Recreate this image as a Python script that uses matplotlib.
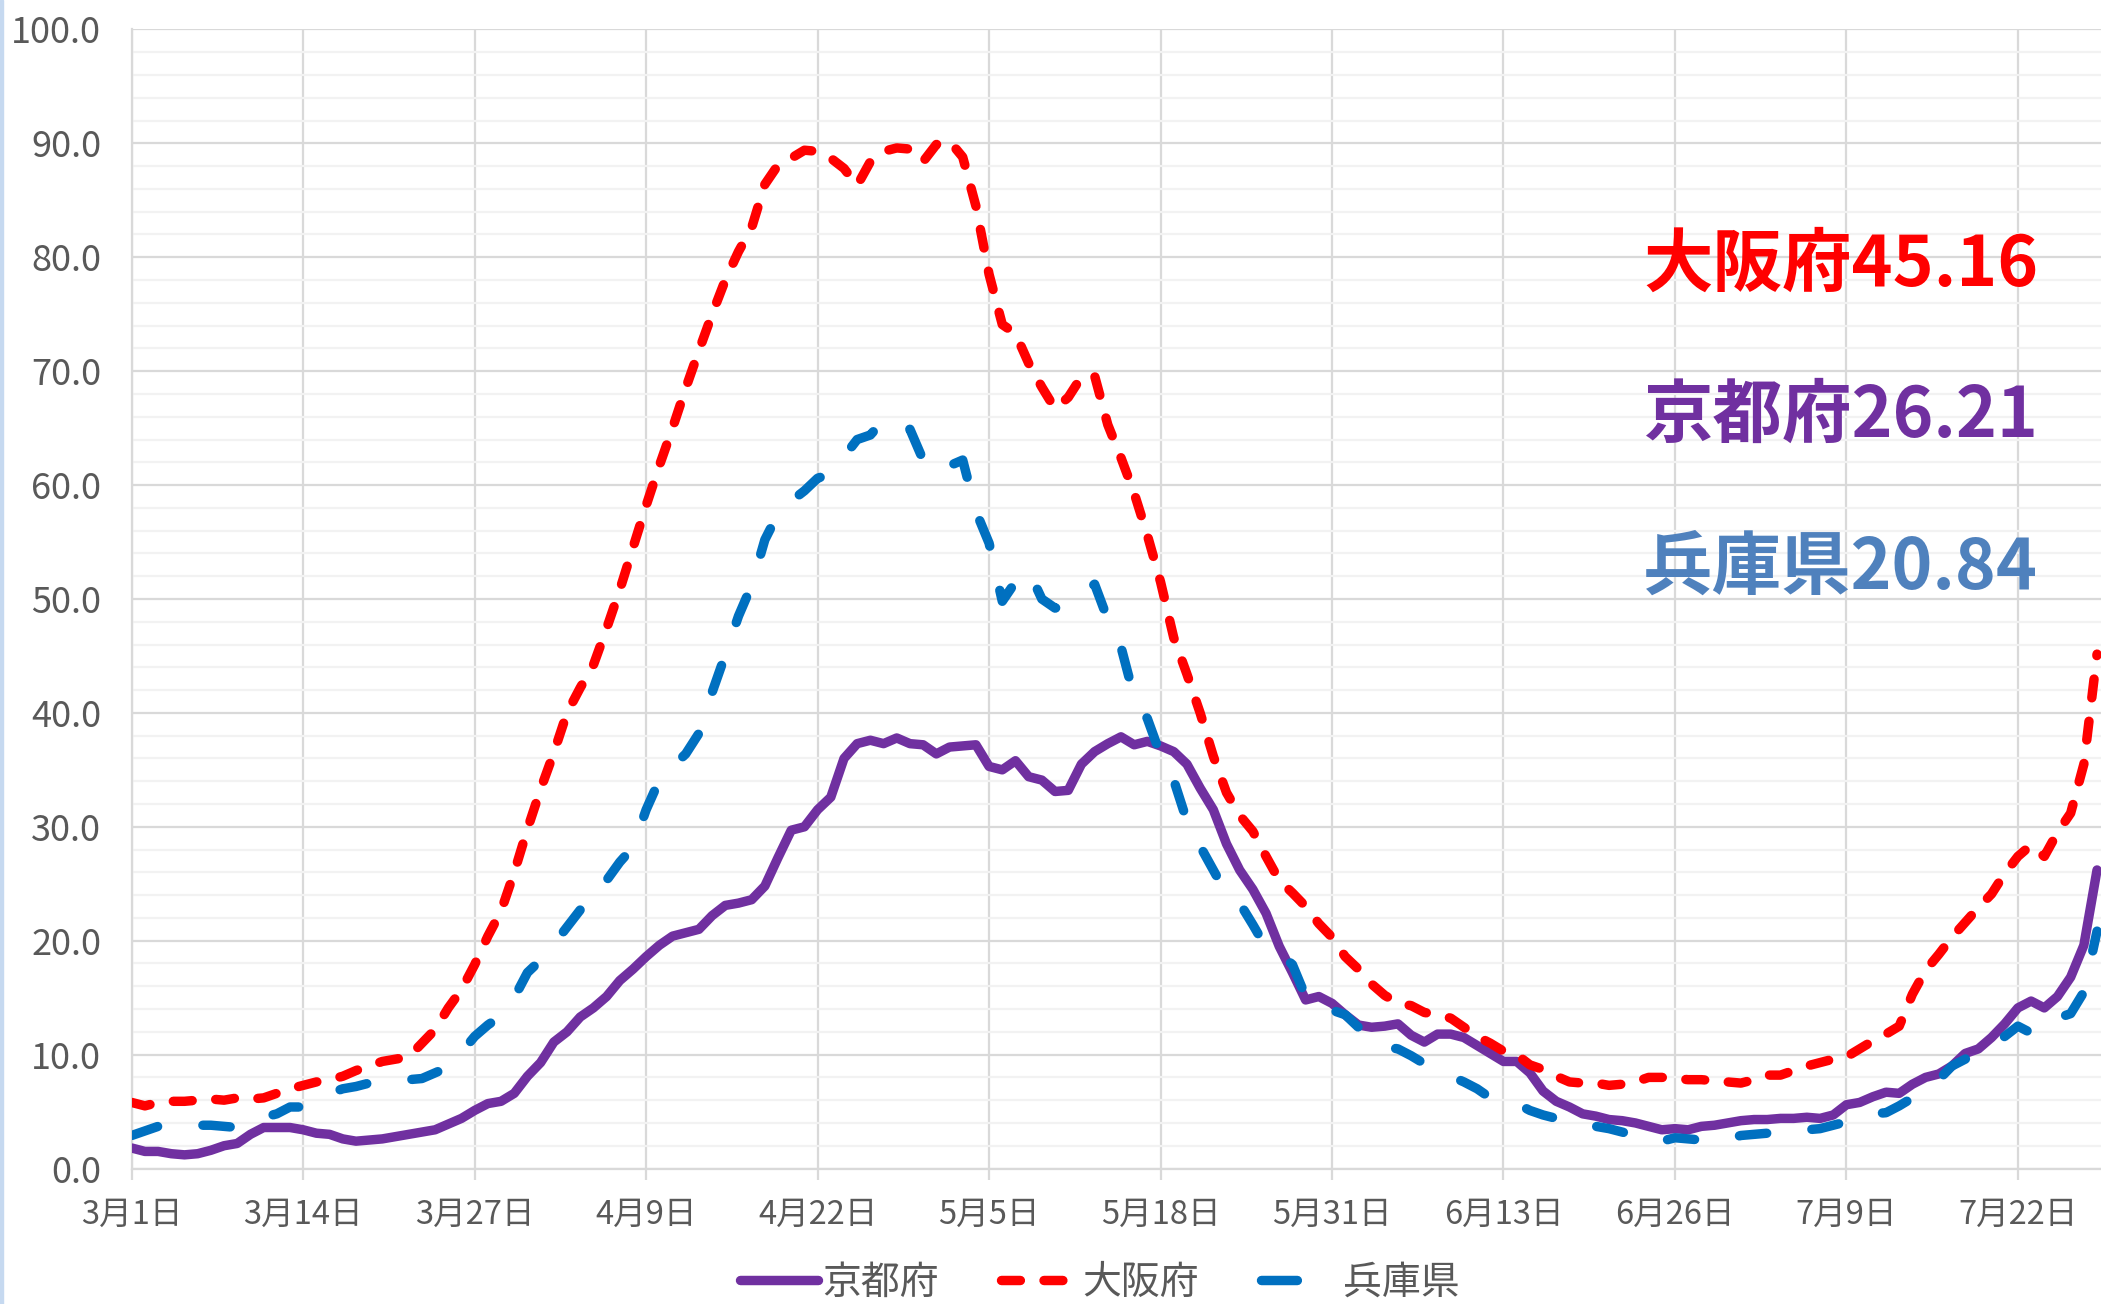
import numpy as np
import matplotlib.pyplot as plt
from matplotlib.patches import Rectangle

plt.rcParams['font.family'] = ['Noto Sans CJK JP', 'DejaVu Sans']

# daily values from 3/1 (day 0) to 7/28 (day 149)
kyoto = [
    1.8, 1.5, 1.5, 1.3, 1.2, 1.3, 1.6, 2.0, 2.2, 3.0,
    3.6, 3.6, 3.6, 3.4, 3.1, 3.0, 2.6, 2.4, 2.5, 2.6,
    2.8, 3.0, 3.2, 3.4, 3.9, 4.4, 5.1, 5.7, 5.9, 6.6,
    8.1, 9.3, 11.1, 12.0, 13.3, 14.1, 15.1, 16.5, 17.5, 18.6,
    19.6, 20.4, 20.7, 21.0, 22.2, 23.1, 23.3, 23.6, 24.8, 27.3,
    29.7, 30.0, 31.5, 32.6, 36.0, 37.3, 37.6, 37.3, 37.8, 37.3,
    37.2, 36.4, 37.0, 37.1, 37.2, 35.3, 35.0, 35.8, 34.4, 34.1,
    33.1, 33.2, 35.5, 36.6, 37.3, 37.9, 37.2, 37.5, 37.1, 36.6,
    35.5, 33.4, 31.5, 28.5, 26.2, 24.5, 22.4, 19.5, 17.2, 14.8,
    15.1, 14.5, 13.5, 12.6, 12.4, 12.5, 12.7, 11.7, 11.1, 11.8,
    11.8, 11.5, 10.8, 10.1, 9.4, 9.4, 8.4, 6.8, 5.9, 5.4,
    4.8, 4.6, 4.3, 4.2, 4.0, 3.7, 3.4, 3.5, 3.4, 3.7,
    3.8, 4.0, 4.2, 4.3, 4.3, 4.4, 4.4, 4.5, 4.4, 4.7,
    5.6, 5.8, 6.3, 6.7, 6.6, 7.4, 8.0, 8.3, 9.0, 10.1,
    10.5, 11.5, 12.7, 14.1, 14.7, 14.1, 15.1, 16.8, 19.6, 26.21,
]
osaka = [
    5.8, 5.5, 5.8, 5.9, 5.9, 6.0, 6.1, 6.0, 6.2, 6.1,
    6.2, 6.6, 7.0, 7.3, 7.6, 7.8, 8.1, 8.6, 9.0, 9.4,
    9.6, 9.8, 11.0, 12.2, 14.1, 15.7, 17.9, 20.4, 22.6, 26.0,
    29.8, 33.3, 36.5, 40.0, 42.2, 44.2, 47.4, 50.8, 54.5, 58.2,
    61.7, 65.0, 68.5, 71.8, 75.0, 78.0, 80.5, 82.6, 86.4, 88.1,
    88.7, 89.4, 89.3, 88.7, 87.8, 86.3, 88.4, 89.3, 89.6, 89.5,
    88.4, 89.9, 90.2, 88.8, 84.5, 78.5, 74.1, 73.3, 70.7, 68.6,
    66.7, 67.7, 69.5, 69.6, 65.3, 62.4, 59.3, 55.6, 51.5, 46.6,
    43.4, 40.0, 36.2, 33.0, 31.0, 29.6, 27.4, 25.3, 24.2, 23.0,
    21.5, 20.3, 18.6, 17.5, 16.2, 15.2, 14.5, 14.3, 13.7, 13.5,
    13.2, 12.4, 11.6, 11.0, 10.3, 10.0, 9.1, 8.7, 8.1, 7.6,
    7.5, 7.5, 7.3, 7.4, 7.6, 8.0, 8.0, 7.9, 7.8, 7.8,
    7.7, 7.6, 7.5, 7.8, 8.2, 8.2, 8.6, 9.0, 9.3, 9.6,
    9.8, 10.5, 11.2, 11.8, 12.5, 15.3, 17.4, 18.8, 20.3, 21.6,
    22.9, 24.1, 25.9, 27.4, 28.4, 27.4, 29.5, 31.2, 35.5, 45.16,
]
hyogo = [
    2.9, 3.3, 3.7, 3.8, 3.8, 3.8, 3.8, 3.7, 3.6, 3.9,
    4.5, 4.8, 5.4, 5.4, 6.0, 6.6, 7.0, 7.2, 7.5, 7.6,
    7.7, 7.8, 7.9, 8.4, 8.9, 10.2, 11.6, 12.6, 13.4, 15.0,
    17.2, 18.3, 19.7, 21.2, 22.7, 23.0, 25.3, 26.9, 28.2, 31.5,
    34.1, 35.3, 36.4, 38.2, 41.8, 45.1, 48.5, 51.2, 55.2, 57.5,
    58.6, 59.5, 60.6, 61.0, 62.5, 64.0, 64.4, 65.7, 64.8, 64.9,
    62.2, 61.0, 61.7, 62.2, 57.7, 54.9, 49.8, 51.5, 52.5, 50.0,
    49.2, 49.5, 50.4, 51.3, 48.2, 45.8, 41.4, 39.5, 36.3, 34.1,
    30.5, 28.3, 26.2, 24.1, 23.3, 21.4, 19.4, 18.9, 17.9, 15.1,
    15.0, 13.9, 13.5, 12.4, 11.1, 10.7, 10.5, 9.9, 9.2, 8.6,
    8.1, 7.6, 7.0, 6.2, 5.8, 5.7, 5.1, 4.7, 4.4, 4.2,
    3.8, 3.7, 3.5, 3.2, 2.9, 2.7, 2.4, 2.7, 2.6, 2.5,
    2.5, 2.6, 2.9, 3.0, 3.1, 3.2, 3.3, 3.4, 3.5, 3.8,
    4.1, 4.4, 4.8, 4.9, 5.5, 6.2, 7.0, 7.8, 9.0, 9.6,
    10.4, 10.8, 11.6, 12.5, 11.9, 12.0, 13.2, 13.6, 15.5, 20.84,
]
date_labels = ['3月1日', '3月14日', '3月27日', '4月9日', '4月22日', '5月5日',
               '5月18日', '5月31日', '6月13日', '6月26日', '7月9日', '7月22日']
names = ['京都府', '大阪府', '兵庫県']
colors = ['#7030A0', '#FF0000', '#0070C0']
note_colors = ['#7030A0', '#FF0000', '#4F81BD']

x = np.arange(len(kyoto))

fig = plt.figure(figsize=(21.01, 13.04), dpi=100)
ax = fig.add_axes([0.0627, 0.1039, 0.9373, 0.8735])

lw = 6.8
ax.plot(x, kyoto, color=colors[0], lw=lw, solid_joinstyle='round',
        solid_capstyle='round', label=names[0], zorder=3)
ax.plot(x, osaka, color=colors[1], lw=lw, dashes=(2.0, 2.5),
        dash_capstyle='round', dash_joinstyle='round', label=names[1], zorder=4)
ax.plot(x, hyogo, color=colors[2], lw=lw, dashes=(2.9, 4.8),
        dash_capstyle='round', dash_joinstyle='round', label=names[2], zorder=5)

ax.set_xlim(0, 149.3)
ax.set_ylim(0, 100)
ax.set_xticks(np.arange(0, len(kyoto), 13))
ax.set_xticklabels(date_labels)
ax.set_yticks(np.arange(0, 101, 10))
ax.set_yticks(np.arange(0, 101, 2), minor=True)
ax.set_yticklabels(['%.1f' % v for v in np.arange(0, 101, 10)])

ax.grid(which='minor', axis='y', color='#f2f2f2', lw=1.6, zorder=0)
ax.grid(which='major', axis='y', color='#d9d9d9', lw=1.6, zorder=1)
ax.grid(which='major', axis='x', color='#d9d9d9', lw=1.6, zorder=1)
ax.set_axisbelow(True)

for s in ['top', 'right']:
    ax.spines[s].set_visible(False)
for s in ['left', 'bottom']:
    ax.spines[s].set_color('#d9d9d9')
    ax.spines[s].set_linewidth(1.6)

ax.tick_params(axis='x', direction='out', length=8, width=1.6, color='#d9d9d9',
               pad=14, labelsize=23.5, labelcolor='#595959')
ax.tick_params(axis='y', which='both', length=0, pad=22, labelsize=26,
               labelcolor='#595959')

# latest values
notes = ['京都府26.21', '大阪府45.16', '兵庫県20.84']
note_y = [1 - 417 / 1304, 1 - 265 / 1304, 1 - 568 / 1304]
for t, c, yy in zip(notes, note_colors, note_y):
    fig.text(1643 / 2101, yy, t, color=c, fontsize=50, fontweight='bold',
             ha='left', va='center')

leg = fig.legend(loc='center', bbox_to_anchor=(0.5236, 0.0163), ncol=3,
                 frameon=False, fontsize=28, handlelength=2.0,
                 handletextpad=0.1, columnspacing=1.6, borderpad=0)
for t in leg.get_texts():
    t.set_color('#595959')
# blue legend sample shows a single dash
leg.get_lines()[2].set_dashes((3.8, 8))

# light blue edge at left
fig.patches.append(Rectangle((0, 0), 3 / 2101, 1, transform=fig.transFigure,
                             color='#c6d9f0', zorder=0))

fig.savefig('out.png', dpi=100)
